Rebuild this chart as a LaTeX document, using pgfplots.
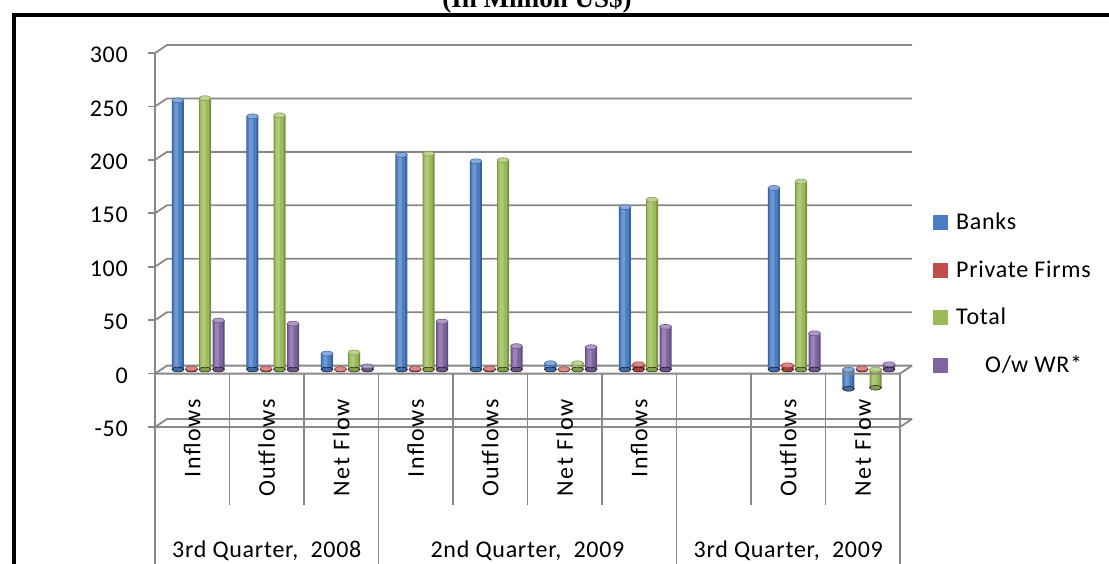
\documentclass[border=0pt]{standalone}
\usepackage{fontspec}
\setmainfont{Carlito}[LetterSpace=3]
\newfontfamily\vertfont{Carlito}[LetterSpace=7]
\newfontfamily\titlefont{Liberation Serif}
\usepackage{pgfplots}
\usepackage{pgfplotstable}
\pgfplotsset{compat=1.18}

\newcommand\lblsize{\fontsize{24}{28}\selectfont}

\definecolor{banks}{HTML}{4A7EC4}
\definecolor{firms}{HTML}{C24C48}
\definecolor{total}{HTML}{9BBB59}
\definecolor{wr}{HTML}{8064A2}
\definecolor{rule}{HTML}{888888}

% Capital flows (million US$); slot 7 of the category axis is left empty
\pgfplotstableread{
pos banks firms total wr
0   252   1.0   254   46
1   237   1.0   238   43
2   15    0.5   16    3
3   201   1.0   202   45
4   195   1.0   196   22
5   6     0.4   6     21
6   152   5.0   159   40
8   170   4.0   176   34
9   -18   1.0   -17   5
}\flows

% one series of cylinders: colour, column, offset inside the category
\newcommand\cylinders[3]{%
  \addplot[only marks, mark=*, mark size=6pt,
    mark options={draw=none, fill=#1!85!black, yscale=0.4}, forget plot]
    table[x expr=\thisrow{pos}#3, y expr={min(\thisrow{#2},0)}]{\flows};
  \addplot[ybar, bar width=12pt, bar shift=0pt, draw=none, fill=#1!78!black, forget plot]
    table[x expr=\thisrow{pos}#3, y=#2]{\flows};
  \addplot[ybar, bar width=9pt, bar shift=-0.5pt, draw=none, fill=#1, forget plot]
    table[x expr=\thisrow{pos}#3, y=#2]{\flows};
  \addplot[ybar, bar width=4pt, bar shift=-1.5pt, draw=none, fill=#1!80!white, forget plot]
    table[x expr=\thisrow{pos}#3, y=#2]{\flows};
  \addplot[only marks, mark=*, mark size=6pt,
    mark options={draw=#1!85!black, line width=0.6pt, fill=#1!65!white, yscale=0.4}, forget plot]
    table[x expr=\thisrow{pos}#3, y expr={max(\thisrow{#2},0)}]{\flows};
}

\begin{document}
\begin{tikzpicture}[x=1pt, y=1pt]
\useasboundingbox (0,0) rectangle (1109,-563);
\clip (0,0) rectangle (1109,-563);
\fill[white] (0,0) rectangle (1109,-563);

% heading and frame
\node[anchor=base, font=\titlefont\bfseries\fontsize{27}{30}\selectfont]
  at (537,-7) {(In Million US\$)};
\draw[line width=4pt] (14,-600) -- (14,-15.3) -- (1130,-15.3);

% back wall gridlines with their depth connectors
\foreach \v in {-50,0,...,300}
  \draw[rule, line width=1.8pt]
    (155,{-373.6+1.0686*\v}) -- (167,{-365.6+1.0686*\v}) -- (912,{-365.6+1.0686*\v});

% cylinders, set half way into the depth
\begin{axis}[
  at={(161pt,-423pt)}, anchor=south west, scale only axis,
  width=745pt, height=374pt,
  xmin=-0.5, xmax=9.5, ymin=-50, ymax=300,
  hide axis, clip=false]
  \cylinders{banks}{banks}{-0.272}
  \cylinders{firms}{firms}{-0.0906}
  \cylinders{total}{total}{+0.0906}
  \cylinders{wr}{wr}{+0.272}
\end{axis}

% value labels, right-aligned on the line x = 128
\begin{axis}[
  at={(128pt,-427pt)}, anchor=south west, scale only axis,
  width=772pt, height=374pt,
  xmin=0, xmax=1, ymin=-50, ymax=300,
  axis x line=none, axis y line*=left,
  axis line style={draw=none},
  ytick={-50,0,...,300}, major tick length=0pt,
  ytick style={draw=none},
  /pgf/number format/assume math mode=true,
  yticklabel style={font=\lblsize, anchor=east, inner sep=0pt, yshift=-2pt},
  clip=false]
\end{axis}

% front axis, value ticks and category names
\begin{axis}[
  at={(155pt,-427pt)}, anchor=south west, scale only axis,
  width=745pt, height=374pt,
  xmin=-0.5, xmax=9.5, ymin=-50, ymax=300,
  axis x line*=bottom, axis y line*=left,
  axis line style={rule, line width=1.8pt, -},
  ytick={-50,0,...,300}, yticklabels={},
  tick align=outside, major tick length=7pt,
  ytick style={rule, line width=1.8pt},
  xtick style={draw=none},
  xtick={0,...,9},
  xticklabels={Inflows, Outflows, Net Flow, Inflows, Outflows, Net Flow, Inflows, {}, Outflows, Net Flow},
  xticklabel style={font=\vertfont\lblsize, rotate=90, anchor=east, inner sep=0pt},
  xticklabel shift=-35pt,
  clip=false]
\end{axis}

% floor edge at zero and right-hand depth connectors
\draw[rule, line width=1.8pt] (155,-373.6) -- (900,-373.6) -- (912,-365.6);
\draw[rule, line width=1.8pt] (900,-427) -- (912,-419);

% category table
\foreach \k in {1,2,4,5,6,8,9}
  \draw[rule, line width=1.8pt] ({155+74.5*\k},-373.6) -- ({155+74.5*\k},-505);
\foreach \k in {0,3,7,10}
  \draw[rule, line width=1.8pt] ({155+74.5*\k},-373.6) -- ({155+74.5*\k},-600);

\node[anchor=base, font=\lblsize, inner sep=0pt] at (266.75,-557) {3rd Quarter,\ \ 2008};
\node[anchor=base, font=\lblsize, inner sep=0pt] at (527.5,-557) {2nd Quarter,\ \ 2009};
\node[anchor=base, font=\lblsize, inner sep=0pt] at (788.25,-557) {3rd Quarter,\ \ 2009};

% legend
\foreach \c/\t/\y/\dx in {banks/Banks/222/0, firms/Private Firms/270/0, total/Total/317/0, wr/O\slash w WR*/365/29} {
  \fill[\c] (933,-\y+7.5) rectangle (948,-\y-7.5);
  \node[anchor=base west, font=\lblsize, inner sep=0pt] at (956+\dx,-\y-7.6) {\t};
}
\end{tikzpicture}
\end{document}
